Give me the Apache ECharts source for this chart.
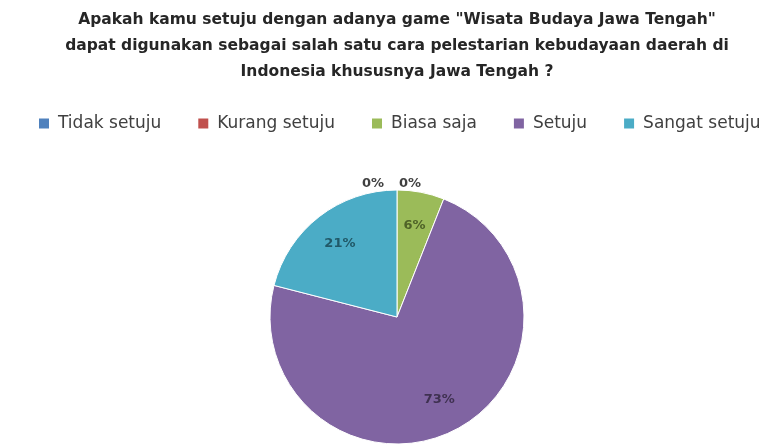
<!DOCTYPE html>
<html>
<head>
<meta charset="utf-8">
<script src="https://cdn.jsdelivr.net/npm/echarts@6/dist/echarts.min.js"></script>
<style>
  html, body { margin: 0; padding: 0; background: #ffffff; }
  #chart { width: 766px; height: 444px; }
</style>
</head>
<body>
<div id="chart"></div>
<script>
// Survey answers and their shares (percent)
const categories = ['Tidak setuju', 'Kurang setuju', 'Biasa saja', 'Setuju', 'Sangat setuju'];
const shares = [0, 0, 6, 73, 21];
const sliceColors = ['#4F81BD', '#C0504D', '#9BBB59', '#8064A2', '#4BACC6'];
const labelColors = ['#404040', '#404040', '#4F6228', '#3F3151', '#215968'];
const titleLines = [
  'Apakah kamu setuju dengan adanya game "Wisata Budaya Jawa Tengah"',
  'dapat digunakan sebagai salah satu cara pelestarian kebudayaan daerah di',
  'Indonesia khususnya Jawa Tengah ?'
];

const center = [397, 317];
const radius = 127;

// Empty categories get their label just above the pie top, split left/right
const zeroOffsets = [[-8, 0], [29, 0]];
let zeroIdx = 0;

const sliceData = categories.map((name, i) => ({
  name,
  value: shares[i],
  itemStyle: { color: sliceColors[i] }
}));

const labelData = categories.map((name, i) => {
  const item = { name, value: shares[i] };
  if (shares[i] === 0) {
    item.label = {
      position: 'outside',
      offset: zeroOffsets[zeroIdx++] || [0, 0]
    };
  }
  item.label = Object.assign({ color: labelColors[i] }, item.label || {});
  return item;
});

const chart = echarts.init(document.getElementById('chart'));
chart.setOption({
  animation: false,
  backgroundColor: '#ffffff',
  title: {
    text: titleLines.join('\n'),
    left: 392,
    textAlign: 'center',
    top: 2,
    textStyle: {
      fontFamily: 'DejaVu Sans',
      fontWeight: 'bold',
      fontSize: 15.5,
      lineHeight: 26,
      color: '#262626'
    }
  },
  legend: {
    top: 115,
    left: 37,
    width: 740,
    padding: 0,
    itemWidth: 12,
    itemHeight: 12,
    itemGap: 35,
    icon: 'rect',
    textStyle: {
      fontFamily: 'DejaVu Sans',
      fontSize: 17,
      color: '#404040',
      padding: [0, 0, 0, 3]
    },
    data: categories.map((name, i) => ({ name, itemStyle: { color: sliceColors[i] } }))
  },
  series: [
    {
      type: 'pie',
      name: 'slices',
      center,
      radius: [0, radius],
      startAngle: 90,
      clockwise: true,
      silent: true,
      avoidLabelOverlap: false,
      label: { show: false },
      labelLine: { show: false },
      itemStyle: { borderColor: '#ffffff', borderWidth: 1 },
      data: sliceData
    },
    {
      type: 'pie',
      name: 'labels',
      center,
      radius: [radius * 0.42, radius],
      startAngle: 90,
      clockwise: true,
      silent: true,
      avoidLabelOverlap: false,
      itemStyle: { color: 'rgba(0,0,0,0)' },
      label: {
        show: true,
        position: 'inside',
        formatter: '{d}%',
        fontFamily: 'DejaVu Sans',
        fontWeight: 'bold',
        fontSize: 13
      },
      labelLine: { show: false, length: 6, length2: 0 },
      data: labelData
    }
  ]
});
</script>
</body>
</html>
